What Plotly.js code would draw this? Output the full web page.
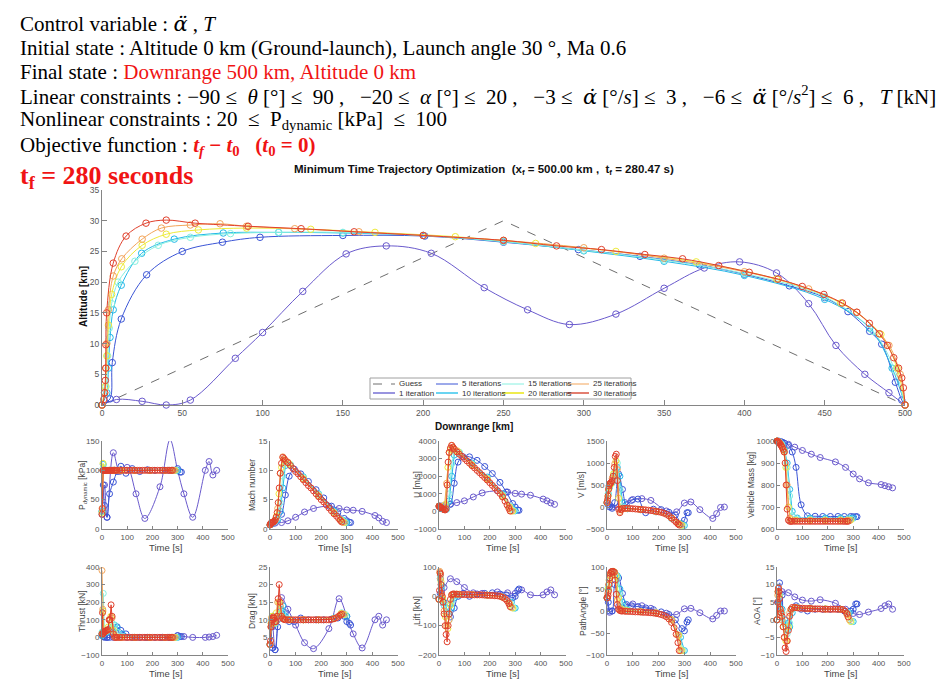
<!DOCTYPE html>
<html><head><meta charset="utf-8">
<script src="https://cdn.plot.ly/plotly-3.0.1.min.js"></script>
<style>html,body{margin:0;padding:0;background:#fff}#chart{width:945px;height:692px}</style>
</head><body><div id="chart"></div>
<script>
// ---------- main trajectory: downrange [km] vs altitude [km] ----------
const guessX = [0, 250, 500];
const guessY = [0, 30, 0];
const x1 = [0,9,25,40,55,83,100,125,152,177,205,238,265,291,320,350,375,397,420,440,457,475,490,500];
const y1 = [0,0.9,0.6,0,0.8,7.6,11.8,18.5,24.6,25.9,24.7,19.1,15.5,13.1,14.8,19,22.3,23.3,21.5,16.5,9.7,5,2,0];
const x5 = [0,5,6.4,12,27.8,50,75,98.4,150,201,250,296.6,335,372,400,428,450,464.5,478,485.5,494,498,500];
const y5 = [0,1,6.9,14,21.2,25,26.5,27.3,27.6,27.5,26.5,25.3,24.2,22.8,21.3,19.4,17.5,15.2,12,9.9,3.7,0.8,0];
const x10 = [0,3,4,5,7,12,24.7,45,75.5,110,150,200,250,300,350,400,450,478,492,500];
const y10 = [0,2,6,11,15.5,19.5,24.7,27,28,28.1,28,27.6,26.6,25.1,23.4,21.1,17.2,12.5,6,0];
const x15 = [0,2.5,3.5,4.5,6,10,20.5,35,55,80,110,150,200,250,300,350,400,450,480,494,500];
const y15 = [0,3,8,12.5,16.5,20,23.4,26,27.3,27.9,28.1,28.1,27.6,26.6,25.2,23.6,21.4,17.6,12,5.5,0];
const x20 = [0,2,3,4,6,12,25,40,60,90,130,170,220,270,320,370,420,460,485,495,500];
const y20 = [0,3,8,13,18,22.5,26,27.8,28.5,28.8,28.6,28.1,27.4,26.3,25,23.3,20.5,16.6,11.5,6,0];
const x25 = [0,1.5,2.5,3,4,7,12.3,25,37,55,73.5,90,120,160,200,250,300,350,400,440,470,490,497,500];
const y25 = [0,2,6,10,15.5,21,23.8,27,28.8,29.3,29.5,29.1,28.7,28.2,27.6,26.8,25.6,23.9,21.7,18.9,15.1,9.7,5,0];
const x30 = [0,1.1,1.7,2.1,2.3,2.4,2.9,7,15,27.4,40,58,91,124,157,200,250,283,311,338,361.5,384,403,421,436,449.5,461,470,477.8,484,489,493,496,498,499,500];
const y30 = [0,0.9,2,4,6,9.8,15,23.1,27.5,29.6,30.1,29.6,29.1,28.7,28.2,27.6,26.8,25.9,25.3,24.5,23.8,22.7,21.6,20.5,19.3,18,16.6,15.1,13.3,11.6,9.7,7.7,6,4.4,2.8,0];

// ---------- node times [s] of each iteration ----------
const t1 = [0,10,20,45,70,100,135,170,230,270,300,325,360,410,425,440,455];
const t5 = [0,5,10,20,30,45,60,75,95,120,150,180,210,240,265,290,300,310,315];
const t10 = [0,5,10,20,30,40,50,60,80,130,190,250,285,300];
const t15 = [0,5,10,20,30,40,50,60,80,130,190,250,280,295];
const t20 = [0,4,8,15,25,35,45,55,75,130,190,250,278,290];
const t25 = [0,3,6,12,20,30,40,50,70,130,190,250,275,285];
const t30 = [0,2,4,6,8,10,13,16,20,24,28,32,36,40,45,50,55,60,70,80,90,100,110,120,130,140,150,160,170,180,190,200,210,220,230,240,250,260,268,275,280];

// ---------- dynamic pressure [kPa] ----------
const pdyn1 = [25,75,20,130,98,105,60,18,72,152,100,60,20,100,115,92,100];
const pdyn5 = [30,75,40,20,60,80,98,107,95,103,98,101,100,100,100,100,103,97,97];
const pdyn10 = [30,110,100,100,100,100,100,100,100,100,100,100,100,100];
const pdyn15 = [30,105,100,100,100,100,100,100,100,100,100,100,100,100];
const pdyn20 = [28,112,100,100,100,100,100,100,100,100,100,100,100,100];
const pdyn25 = [35,100,100,100,100,100,100,100,100,100,100,100,100,100];
const pdyn30 = [25,35,100,100,100,100,100,100,100,100,100,100,100,100,100,100,100,100,100,100,100,100,100,100,100,100,100,100,100,100,100,100,100,100,100,100,100,100,100,100,100];
// ---------- Mach number ----------
const mach1 = [0.7,0.9,1.0,1.1,1.4,2.0,2.9,3.5,3.9,3.5,3.25,3.2,3.0,2.3,1.9,1.3,1.1];
const mach5 = [0.7,0.8,1.0,1.3,1.6,2.5,5.8,9,10.2,9.4,8.1,6.7,5.3,3.9,2.8,1.8,1.4,1.15,1.1];
const mach10 = [0.7,0.9,1.1,1.3,1.6,3,7,10.8,10.9,8.9,6.0,3.1,1.5,1.1];
const mach15 = [0.7,0.9,1.1,1.3,1.8,4.5,9,11.2,11.0,8.8,5.9,2.9,1.6,1.1];
const mach20 = [0.7,0.9,1.1,1.3,2.2,6,10.5,11.8,11.1,8.6,5.7,2.8,1.5,1.1];
const mach25 = [0.7,0.9,1.0,1.2,1.5,3.5,9.5,12.3,11.4,8.5,5.6,2.7,1.5,1.15];
const mach30 = [0.7,0.9,1.0,1.05,1.1,1.15,1.2,1.3,1.5,2.0,2.8,4.5,7,9.5,11.2,12.2,12.0,11.7,11.3,10.8,10.3,9.8,9.4,8.9,8.4,7.9,7.4,7.0,6.5,6.0,5.5,5.0,4.6,4.1,3.6,3.1,2.6,2.2,1.8,1.45,1.2];
// ---------- U [m/s] ----------
const u1 = [270,300,330,420,500,600,820,1050,1170,1100,1020,980,920,700,600,480,400];
const u5 = [300,300,250,200,250,400,1600,2800,3100,3100,2900,2550,2150,1650,1100,450,250,80,60];
const u10 = [300,280,230,150,120,600,2000,3200,3350,2750,1950,1000,250,30];
const u15 = [300,280,230,150,150,1000,2700,3400,3350,2700,1900,950,300,30];
const u20 = [300,270,230,150,400,2500,3500,3600,3400,2650,1850,900,250,20];
const u25 = [300,270,240,170,100,1600,3350,3750,3450,2600,1800,850,250,20];
const u30 = [300,280,250,230,210,190,160,130,100,80,150,1500,2800,3350,3600,3750,3650,3550,3380,3250,3130,3000,2870,2740,2600,2470,2330,2200,2060,1920,1780,1630,1480,1330,1180,1020,820,580,360,170,20];
// ---------- V [m/s] ----------
const v1 = [100,50,0,-10,100,170,190,150,-90,-110,90,115,-60,-260,-150,-10,0];
const v5 = [100,50,0,-30,100,750,400,50,150,180,-130,-50,-60,-120,-180,-380,-300,-130,-130];
const v10 = [100,300,450,550,700,900,700,100,-40,-60,-110,-260,-380,-420];
const v15 = [100,300,470,560,800,1000,400,0,-40,-60,-108,-255,-380,-420];
const v20 = [100,250,450,520,750,1050,200,-60,-35,-58,-105,-250,-375,-415];
const v25 = [100,200,400,530,650,980,850,-100,-35,-57,-105,-250,-370,-410];
const v30 = [100,150,250,400,480,520,540,560,600,700,900,1150,1200,600,-50,-130,-60,-30,-30,-30,-35,-40,-45,-50,-55,-60,-65,-72,-80,-88,-97,-108,-122,-140,-165,-200,-250,-300,-345,-385,-410];
// ---------- vehicle mass [kg] ----------
const mass1 = [1000,998,995,985,972,957,940,925,905,880,850,828,810,802,797,792,787];
const mass5 = [1000,1000,998,995,990,980,950,880,710,660,658,657,657,657,657,657,656,656,656];
const mass10 = [1000,998,995,985,960,900,780,680,650,650,650,650,650,650];
const mass15 = [1000,998,995,983,955,880,750,660,645,645,645,645,645,645];
const mass20 = [1000,998,995,985,960,880,700,642,640,640,640,640,640,640];
const mass25 = [1000,999,997,990,975,950,800,650,638,638,638,638,638,638];
const mass30 = [1000,998,996,994,992,990,985,980,972,962,950,900,800,690,640,635,635,635,635,635,635,635,635,635,635,635,635,635,635,635,635,635,635,635,635,635,635,635,635,635,635];
// ---------- thrust [kN] ----------
const thrust1 = [20,5,0,0,0,0,0,0,0,0,10,5,0,0,2,5,12];
const thrust5 = [20,5,0,0,0,30,60,40,20,0,0,0,0,0,0,0,10,5,5];
const thrust10 = [10,30,25,30,40,60,70,55,20,0,0,0,0,0];
const thrust15 = [30,250,30,35,45,80,70,30,5,0,0,0,0,0];
const thrust20 = [20,150,30,35,60,120,40,5,0,0,0,0,0,0];
const thrust25 = [380,160,30,35,40,100,110,10,0,0,0,0,0,0];
const thrust30 = [20,140,20,25,30,32,35,38,40,45,100,100,185,120,20,0,0,0,0,0,0,0,0,0,0,0,0,0,0,0,0,0,0,0,0,0,0,0,0,0,0];
// ---------- drag [kN] ----------
const drag1 = [3,8,1.5,16.3,13,8.5,3.5,1.8,7.5,16,11,6,2,10,11,8.5,10];
const drag5 = [3,8,2,1.5,8,12.5,12,9.5,9.5,10.5,10,10,10,10.2,10.5,11,9.5,9,8.5];
const drag10 = [3,9,11,9,10,13,14,11,10,10,10,10.5,11.5,11];
const drag15 = [3,10,11,9,11,14,12,10.5,10,10,10,10.5,12,11.5];
const drag20 = [3,9,11,9,12,15,11,10.2,10,10,10,10.4,11.8,11.5];
const drag25 = [3,8,10.5,10,10,15,14,10.5,10,10,10,10.3,11.5,11.7];
const drag30 = [3,4,8,9,10,10.5,10.8,10.5,9.5,9.5,11,16,20,15,11,10.3,10.1,10,10,10,10,10,10,10,10,10,10,10,10,10,10,10,10,10,10,10.1,10.3,10.6,11,11.3,11.6];
// ---------- lift [kN] ----------
const lift1 = [-10,20,30,60,50,30,12,10,15,12,10,22,5,5,15,22,5];
const lift5 = [-10,10,30,-30,-60,-70,-40,0,10,0,8,10,12,8,5,-5,0,20,25];
const lift10 = [-10,60,40,-20,-40,-60,-40,-5,5,6,4,-2,-20,-40];
const lift15 = [-10,70,30,-30,-60,-80,-20,0,6,6,4,-2,-25,-40];
const lift20 = [-10,80,50,-10,-70,-110,-30,5,7,6,4,-3,-25,-40];
const lift25 = [-10,85,60,0,-50,-100,-80,5,8,6,4,-3,-22,-38];
const lift30 = [-10,20,80,75,40,10,0,-20,-60,-100,-130,-155,-100,-60,-10,5,8,8,7,7,6,6,6,6,5,5,5,5,5,4,4,3,3,2,2,0,-3,-8,-15,-25,-35];
// ---------- path angle [deg] ----------
const path1 = [30,-3,0,10,13,16,12,6,-5,-8,5,6,-4,-18,-10,0,0];
const path5 = [30,20,0,0,60,75,40,15,12,10,7,3,-2,-8,-20,-40,-45,-25,-20];
const path10 = [30,50,75,88,88,80,50,20,3,-1,-4,-20,-60,-90];
const path15 = [30,55,80,90,88,75,40,12,2,-1,-4,-20,-55,-90];
const path20 = [30,50,70,85,90,80,30,5,1,-1,-4,-20,-55,-90];
const path25 = [30,40,60,80,90,88,25,3,0,-1,-4,-20,-55,-90];
const path30 = [30,30,35,45,60,75,85,89,90,90,88,70,38,15,4,1,0,0,-0.5,-1,-1,-1.5,-2,-2,-2.5,-3,-3,-3.5,-4,-4.5,-5.5,-6.5,-8,-10,-13,-18,-26,-38,-53,-72,-90];
// ---------- angle of attack [deg] ----------
const aoa1 = [0,5,8,7.7,6.5,5.6,5.3,5.7,4.7,3,1.8,1.5,2.2,3.2,4,4.5,3];
const aoa5 = [0,5,10.5,7,-1,-1,3,4,3,2.5,3,3,3,3,2.5,2.5,3,4.5,4.5];
const aoa10 = [0,8,7,3,0,-3,-2,2,3.5,3.3,3.1,3,2,-0.5];
const aoa15 = [0,8,7,2,-1,-4,-1,3,3.5,3.3,3.1,3,2,-0.5];
const aoa20 = [0,8,7,2,-2,-6,-2,3,3.5,3.3,3.1,3,1.5,-0.5];
const aoa25 = [0,7,9,3,0,-5,-6,2,3.5,3.3,3.1,3,1.5,0];
const aoa30 = [0,5,8,9,8,6,3,2,1,-2,-5,-8,-9,-6,-3,1,3,3.5,3.5,3.4,3.3,3.3,3.2,3.2,3.2,3.1,3.1,3.1,3.1,3.0,3.0,3.0,3.0,3.0,3.0,3.0,3.0,2.9,2.5,1.8,0.8];

// ---------- labels ----------
const guessName = 'Guess';
const iterNames = ['1 iteration','5 iterations','10 iterations','15 iterations','20 iterations','25 iterations','30 iterations'];
const iterColors = ['#6a5acd','#3b55d6','#22b8e8','#86f0e0','#eeea3a','#f3a55a','#e0402c'];
const panelTitles = ['P<sub>dynamic</sub> [kPa]','Mach number','U [m/s]','V [m/s]','Vehicle Mass [kg]','Thrust [kN]','Drag [kN]','Lift [kN]','PathAngle [°]','AOA [°]'];
const panelRanges = [[0,150],[0,15],[-1000,4000],[-500,1500],[600,1000],[-100,400],[0,25],[-200,100],[-100,100],[-10,15]];
const panelDticks = [50,5,1000,500,100,100,5,100,50,5];

// ---------- build ----------
const W = 945, H = 692;
const fx = p => p / W, fy = p => 1 - p / H;
const SANS = 'Liberation Sans, Arial, sans-serif';
const SERIF = 'Liberation Serif, Times New Roman, serif';
const mainX = [x1,x5,x10,x15,x20,x25,x30];
const mainY = [y1,y5,y10,y15,y20,y25,y30];
const times = [t1,t5,t10,t15,t20,t25,t30];
const panelData = [
  [pdyn1,pdyn5,pdyn10,pdyn15,pdyn20,pdyn25,pdyn30],
  [mach1,mach5,mach10,mach15,mach20,mach25,mach30],
  [u1,u5,u10,u15,u20,u25,u30],
  [v1,v5,v10,v15,v20,v25,v30],
  [mass1,mass5,mass10,mass15,mass20,mass25,mass30],
  [thrust1,thrust5,thrust10,thrust15,thrust20,thrust25,thrust30],
  [drag1,drag5,drag10,drag15,drag20,drag25,drag30],
  [lift1,lift5,lift10,lift15,lift20,lift25,lift30],
  [path1,path5,path10,path15,path20,path25,path30],
  [aoa1,aoa5,aoa10,aoa15,aoa20,aoa25,aoa30]
];
const colPx = [[102,228],[270,398],[439,566],[607,736],[777,904]];
const rowPx = [[441,529],[567,655]];

const traces = [];
traces.push({x:guessX, y:guessY, mode:'lines', name:guessName, showlegend:false,
  line:{color:'#6e6e6e', width:1, dash:'dash'}, xaxis:'x', yaxis:'y'});
for (let i = 0; i < 7; i++) {
  traces.push({x:mainX[i], y:mainY[i], mode:'lines+markers', name:iterNames[i], showlegend:false,
    line:{color:iterColors[i], width:1, shape:'spline', smoothing:1},
    marker:{symbol:'circle-open', size:6.5, color:iterColors[i], line:{width:1}},
    xaxis:'x', yaxis:'y', cliponaxis:false});
}
for (let k = 0; k < 10; k++) {
  const ax = k + 2;
  for (let i = 0; i < 7; i++) {
    traces.push({x:times[i], y:panelData[k][i], mode:'lines+markers', name:iterNames[i], showlegend:false,
      line:{color:iterColors[i], width:1, shape: i < 2 ? 'spline' : 'linear'},
      marker:{symbol:'circle-open', size:6, color:iterColors[i], line:{width:1}},
      xaxis:'x'+ax, yaxis:'y'+ax, cliponaxis:false});
  }
}

const axBase = {showline:true, linecolor:'#858585', linewidth:1, ticks:'inside', tickcolor:'#858585',
  showgrid:false, zeroline:false, fixedrange:true, tickfont:{family:SANS, size:8, color:'#555'}};
const layout = {
  width:W, height:H, margin:{l:0,r:0,t:0,b:0}, paper_bgcolor:'#fff', plot_bgcolor:'rgba(0,0,0,0)',
  showlegend:false,
  xaxis:Object.assign({}, axBase, {domain:[fx(102),fx(905)], range:[0,500], dtick:50, ticklen:5, anchor:'y', tickfont:{family:SANS,size:8.5,color:'#555'}}),
  yaxis:Object.assign({}, axBase, {domain:[fy(405),fy(190)], range:[0,35], dtick:5, ticklen:5, anchor:'x', tickfont:{family:SANS,size:8.5,color:'#555'}}),
  shapes:[{type:'rect', xref:'paper', yref:'paper', x0:fx(370), x1:fx(631), y0:fy(399), y1:fy(378),
    line:{color:'#a0a0a0', width:1}, fillcolor:'#fff', layer:'above'}],
  annotations:[]
};
for (let k = 0; k < 10; k++) {
  const ax = k + 2, c = colPx[k % 5], r = rowPx[Math.floor(k / 5)];
  layout['xaxis'+ax] = Object.assign({}, axBase, {domain:[fx(c[0]),fx(c[1])], range:[0,500], dtick:100, ticklen:3, anchor:'y'+ax});
  layout['yaxis'+ax] = Object.assign({}, axBase, {domain:[fy(r[1]),fy(r[0])], range:panelRanges[k], dtick:panelDticks[k], ticklen:3, anchor:'x'+ax});
}

const A = layout.annotations;
const note = (o) => A.push(Object.assign({xref:'paper', yref:'paper', showarrow:false, xanchor:'center', yanchor:'middle'}, o));

// legend (drawn as a 4x2 box like the original)
const legEntries = [
  {label:guessName, color:'#6e6e6e', dash:'dash', col:0, row:0},
  {label:iterNames[1], color:iterColors[1], col:1, row:0},
  {label:iterNames[3], color:iterColors[3], col:2, row:0},
  {label:iterNames[5], color:iterColors[5], col:3, row:0},
  {label:iterNames[0], color:'#8e88dc', col:0, row:1, w:1.8},
  {label:iterNames[2], color:'#5ad0f0', col:1, row:1, w:1.8},
  {label:iterNames[4], color:iterColors[4], col:2, row:1, w:1.8},
  {label:iterNames[6], color:'#e07060', col:3, row:1, w:1.8}
];
const legColX = [373, 436, 502, 567], legRowY = [384, 393];
legEntries.forEach(e => {
  const x0 = legColX[e.col], yy = legRowY[e.row];
  layout.shapes.push({type:'line', xref:'paper', yref:'paper', x0:fx(x0), x1:fx(x0+22), y0:fy(yy), y1:fy(yy),
    line:{color:e.color, width:e.w || 1, dash:e.dash || 'solid'}, layer:'above'});
  note({text:e.label, x:fx(x0+24), xanchor:'left', y:fy(yy), font:{family:SANS, size:8, color:'#333'}});
});

const NB = '\u00a0';
const DV = s => '<span style="font-family:DejaVu Serif">' + s + '</span>';
const hdr = (txt, cy, size) => note({text:txt, x:fx(18), xanchor:'left', y:fy(cy),
  font:{family:SERIF, size:size || 21, color:'#000'}});
const RED = '#f01414';
const LE = ' ≤' + NB + ' ';
const CM = ' ,' + NB + NB + ' ';
const LE5 = ' ' + NB + '≤' + NB + ' ';
hdr('Control variable : ' + DV('<i>α̈</i>') + ' ,' + NB + '<i>T</i>', 24);
hdr('Initial state : Altitude 0 km (Ground-launch), Launch angle 30 °, Ma 0.6', 48);
hdr('Final state : <span style="color:' + RED + '">Downrange 500 km, Altitude 0 km</span>', 72);
hdr('Linear constraints : −90' + LE + '<i>θ</i> [°]' + LE + '90' + CM + '−20' + LE + '<i>α</i> [°]' + LE + '20' + CM +
    '−3' + LE + DV('<i>α̇</i>') + ' [°/<i>s</i>]' + LE + '3' + CM + '−6' + LE + DV('<i>α̈</i>') + ' [°/<i>s</i><sup>2</sup>]' + LE + '6' + CM + '<i>T</i> [kN]', 96);
hdr('Nonlinear constraints : 20' + LE5 + 'P<sub>dynamic</sub> [kPa]' + LE5 + '100', 120);
hdr('Objective function : <span style="color:' + RED + '"><b><i>t<sub>f</sub></i>' + NB + '−' + NB + '<i>t</i><sub>0</sub>' + NB + NB + NB + '(<i>t</i><sub>0</sub>' + NB + '=' + NB + '0)</b></span>', 146);
hdr('<span style="color:' + RED + '"><b>t<sub>f</sub> = 280 seconds</b></span>', 177, 26);

note({text:'<b>Minimum Time Trajectory Optimization  (x<sub>f</sub> = 500.00 km ,  t<sub>f</sub> = 280.47 s)</b>',
  x:fx(484), y:fy(170), font:{family:SANS, size:11.5, color:'#111'}});
note({text:'<b>Altitude [km]</b>', x:fx(83), y:fy(297), textangle:-90, font:{family:SANS, size:10, color:'#111'}});
note({text:'<b>Downrange [km]</b>', x:fx(474), y:fy(426), font:{family:SANS, size:10, color:'#111'}});
const yTitleX = [82,252,417,581,751,82,252,417,583,757];
for (let k = 0; k < 10; k++) {
  const c = colPx[k % 5], r = rowPx[Math.floor(k / 5)];
  note({text:panelTitles[k], x:fx(yTitleX[k]), y:fy((r[0]+r[1])/2), textangle:-90,
    font:{family:SANS, size:8.5, color:'#444'}});
  note({text:'Time [s]', x:fx((c[0]+c[1])/2), y:fy(r[1]+18), font:{family:SANS, size:9.5, color:'#444'}});
}

Plotly.newPlot('chart', traces, layout, {displayModeBar:false, staticPlot:true});
</script></body></html>
